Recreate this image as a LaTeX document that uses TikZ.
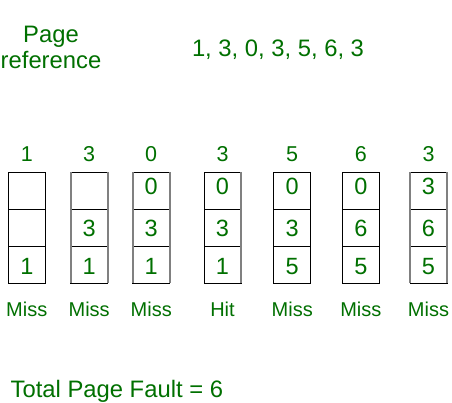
\documentclass[tikz,border=0pt]{standalone}
\usepackage{fontspec}
\setmainfont{Liberation Sans}
\definecolor{gfg}{RGB}{0,112,0}
\definecolor{sidegray}{RGB}{128,128,128}
\begin{document}
\begin{tikzpicture}[x=1pt,y=-1pt,
  cell/.style={draw=black,line width=1pt,minimum width=37pt,minimum height=37pt,inner sep=0pt,outer sep=0pt,anchor=north west},
  dig/.style={text=gfg,inner sep=0pt,anchor=base,font=\fontsize{23.5}{27}\selectfont},
  head/.style={text=gfg,inner sep=0pt,anchor=base,font=\fontsize{21.5}{25}\selectfont},
  res/.style={text=gfg,inner sep=0pt,anchor=base,font=\fontsize{20}{24}\selectfont},
  big/.style={text=gfg,inner sep=0pt,anchor=base,font=\fontsize{23.8}{28}\selectfont},
  grayside/.style={draw=sidegray,line width=1.8pt}]
\useasboundingbox[fill=white] (0,0) rectangle (452,403);
\node[big] (page) at (51,42.3) {Page};
\node[big] (refr) at (51,69) {reference};
\node[big] (seq) at (278,56.7) {1, 3, 0, 3, 5, 6, 3};
\foreach \x/\a/\b/\c/\t/\r [count=\i] in {
  8.3/{}/{}/1/1/Miss,
  70.7/{}/3/1/3/Miss,
  132.7/0/3/1/0/Miss,
  204/0/3/1/3/Hit,
  273.7/0/3/5/5/Miss,
  342.3/0/6/5/6/Miss,
  410/3/6/5/3/Miss}{
  \node[cell] (top\i) at (\x,172.3) {};
  \node[cell] (mid\i) at (\x,209.3) {};
  \node[cell] (bot\i) at (\x,246.3) {};
  \node[dig] (dt\i) at (\x+18.5,194.3) {\a};
  \node[dig] (dm\i) at (\x+18.5,236.7) {\b};
  \node[dig] (db\i) at (\x+18.5,274.3) {\c};
  \node[head] (h\i) at (\x+18.5,161.7) {\t};
  \node[res] (r\i) at (\x+18.5,316) {\r};
}
\foreach \i in {2,3,7}{
  \draw[grayside] (top\i.north west) -- (bot\i.south west);
  \draw[grayside] (top\i.north east) -- (bot\i.south east);
}
\draw[grayside] (top4.north east) -- (bot4.south east);
\node[big,anchor=base west] (total) at (10.5,397.3) {Total Page Fault = 6};
\end{tikzpicture}
\end{document}
